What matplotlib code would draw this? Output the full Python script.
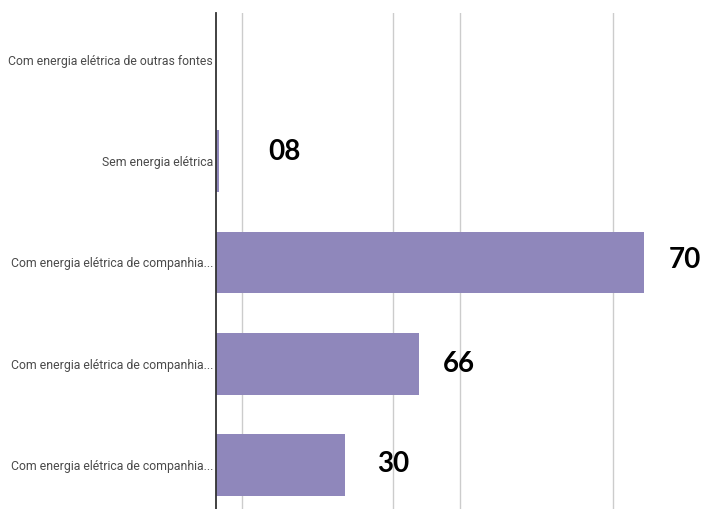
import matplotlib.pyplot as plt
import numpy as np

categories = [
    'Com energia elétrica de outras fontes',
    'Sem energia elétrica',
    'Com energia elétrica de companhia...',
    'Com energia elétrica de companhia...',
    'Com energia elétrica de companhia...',
]
values = [0, 1, 142.7, 67.7, 43]
labels = ['', '08', '70', '66', '30']
grid_x = [8.7, 59, 81.3, 132.3]

# label offsets in pixels from bar end (x) and bar centre (y)
label_dx = [0, 49, 25, 24, 32]
label_dy = [0, 9, 2, 0, 1]

fig = plt.figure(figsize=(7.02, 5.09), dpi=100)
ax = fig.add_axes([216 / 702, 0, 486 / 702, 496 / 509])

y = np.arange(len(categories))
ax.barh(y, values, height=0.61, color='#8F87BB', zorder=2)

for i, txt in enumerate(labels):
    if txt:
        ax.annotate(txt, (values[i], y[i]), xytext=(label_dx[i], label_dy[i]),
                    textcoords='offset pixels', ha='left', va='center',
                    fontsize=20, fontweight='bold', family='Lato', color='black')

ax.set_xlim(0, 162)
ax.set_ylim(4.436, -0.465)
ax.set_yticks(y)
ax.set_yticklabels(categories, family='Roboto', fontsize=8.8, color='#4a4a4a')
ax.set_xticks(grid_x)
ax.set_xticklabels([])
ax.tick_params(axis='both', length=0, pad=2)
ax.grid(axis='x', color='#cccccc', linewidth=1, zorder=0)
ax.set_axisbelow(True)

for s in ['top', 'right', 'bottom']:
    ax.spines[s].set_visible(False)
ax.spines['left'].set_color('#333333')
ax.spines['left'].set_linewidth(1.3)
ax.spines['left'].set_zorder(3)

fig.savefig('out.png', dpi=100)
